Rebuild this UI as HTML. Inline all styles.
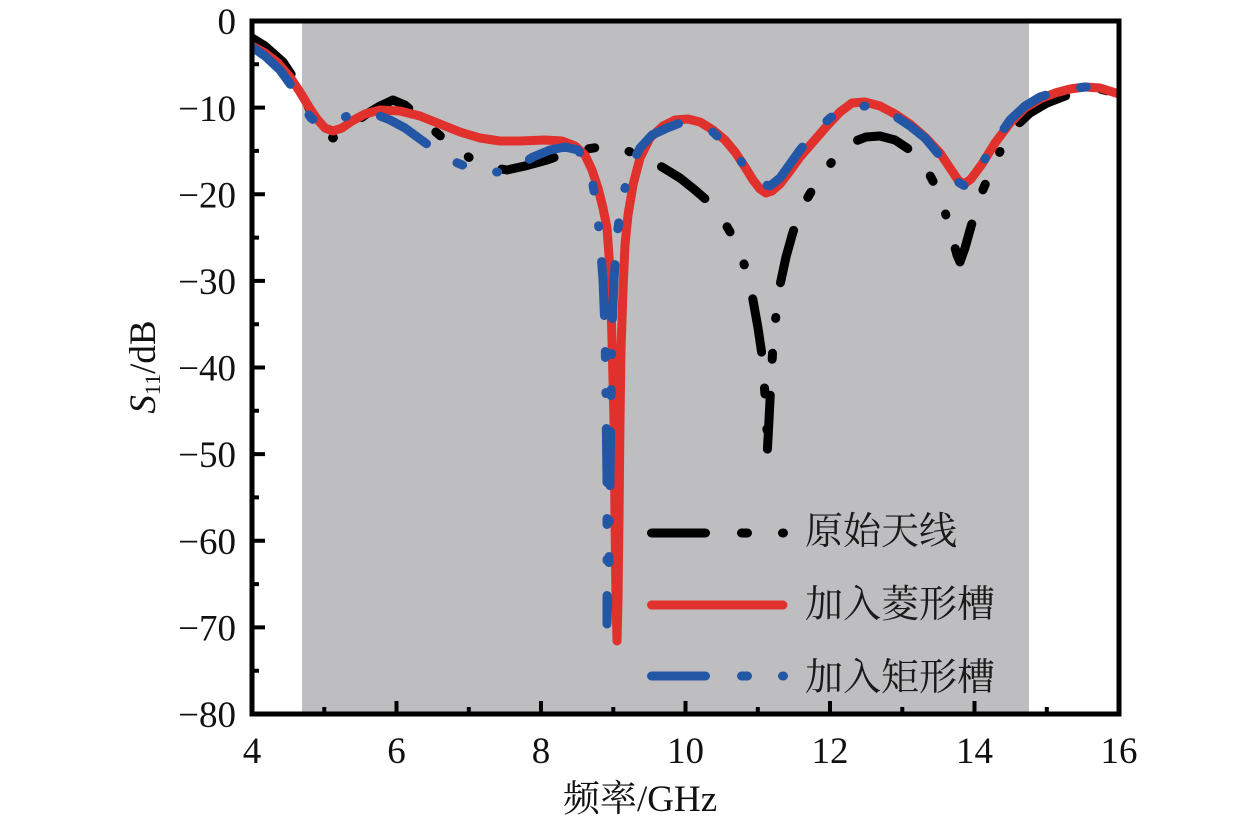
<!DOCTYPE html>
<html><head><meta charset="utf-8"><style>
html,body{margin:0;padding:0;background:#fff;}
svg{display:block;}
</style></head><body>
<svg width="1259" height="820" viewBox="0 0 1259 820" xmlns="http://www.w3.org/2000/svg">
<defs><clipPath id="pa"><rect x="252" y="21" width="867" height="693"/></clipPath></defs>
<rect x="0" y="0" width="1259" height="820" fill="#fff"/>
<rect x="302" y="21" width="727" height="693" fill="#bebec0"/>
<g clip-path="url(#pa)" fill="none" stroke-width="9" stroke-linejoin="round" stroke-linecap="round">
<path stroke="#000" stroke-dasharray="54 36 6 35 1 35" d="M252,38 L265,46 283,62 295,80 305,100 315,120 325,133 333,138 342,134 352,125 365,115 380,106 393,100 405,105 420,118 437,133 453,147 470,158 490,167 507,170 525,166 547,160 573,151 600,147 620,148 633,153 650,160 667,170 680,178 695,190 710,203 722,218 733,237 741,255 747,273 753,300 758,328 762,355 765,395 767,430 767,457 769,420 771,380 773,345 776,315 780,285 786,257 793,232 800,213 808,197 817,182 827,168 840,152 853,142 866,137 880,136 895,140 913,152 925,166 935,185 945,212 952,237 957,255 960,262 965,248 970,230 975,213 982,192 990,173 1003,145 1015,127 1030,113 1047,103 1065,96 1083,92 1100,89 1119,94"/>
<path stroke="#e0312c" d="M252,46 L265,53 278,63 290,77 300,92 309,107 317,119 325,128 333,131 342,128 352,121 365,114 380,110 400,111 420,116 440,124 460,132 480,138 500,141 520,141 545,140 562,141 575,146 585,155 592,170 598,188 603,208 607,228 610,270 612,340 614,420 615,520 616,600 617,641 618,600 619,520 620,420 621,350 623,290 625,245 628,215 633,185 640,158 650,138 663,126 675,120 688,119 700,122 713,130 725,140 735,152 745,167 753,180 760,189 766,193 772,191 780,184 790,171 800,157 813,142 826,127 840,112 852,103 865,102 880,106 895,114 910,124 925,137 940,153 950,168 958,180 964,184 971,179 982,164 995,143 1010,123 1025,108 1040,99 1055,93 1070,89 1085,87 1100,88 1119,94"/>
<path stroke="#2456a6" stroke-dasharray="54 36 6 35 1 35" d="M252,47 L265,56 280,70 293,88 303,106 311,118 320,124 330,123 340,119 350,115 360,113 375,114 390,120 405,128 420,139 438,152 455,162 470,168 490,172 505,172 520,165 533,157 550,150 565,147 578,150 587,163 593,185 597,210 600,240 603,280 605,330 606,400 607,480 607,560 607,624 609,560 610,480 611,400 612,330 614,280 617,235 622,200 630,168 640,148 652,135 667,128 680,123 697,125 713,132 728,146 740,160 752,175 762,184 770,186 780,178 790,164 800,150 815,132 830,118 847,108 865,106 880,110 895,116 910,126 925,138 940,156 950,172 958,182 965,186 972,180 982,164 995,142 1010,120 1025,106 1040,97 1055,92 1070,89 1085,87 1100,87 1119,93"/>
</g>
<!-- legend -->
<g fill="none" stroke-width="9" stroke-linecap="round">
<path stroke="#000" stroke-dasharray="54 36 6 35 1 35" d="M651.5,533 L785,533"/>
<path stroke="#e0312c" d="M651.5,605 L783,605"/>
<path stroke="#2456a6" stroke-dasharray="54 36 6 35 1 35" d="M651.5,676 L785,676"/>
</g>
<g font-family="'Liberation Serif','Noto Serif CJK SC','Noto Sans CJK SC',serif" font-size="38" fill="#1a1a1a">
<text x="805" y="544">原始天线</text>
<text x="805" y="617">加入菱形槽</text>
<text x="805" y="690">加入矩形槽</text>
</g>
<!-- frame -->
<rect x="252" y="21" width="867" height="693" fill="none" stroke="#000" stroke-width="5"/>
<!-- y ticks -->
<g stroke="#000" stroke-width="4">
<path d="M252,107.6H265M252,194.3H265M252,280.9H265M252,367.5H265M252,454.1H265M252,540.8H265M252,627.4H265"/>
<path d="M252,64.3H259M252,150.9H259M252,237.6H259M252,324.2H259M252,410.8H259M252,497.4H259M252,584.1H259M252,670.7H259"/>
<path d="M396.5,714V701M541,714V701M685.5,714V701M830,714V701M974.5,714V701"/>
<path d="M324.3,714V707M468.8,714V707M613.3,714V707M757.8,714V707M902.3,714V707M1046.8,714V707"/>
</g>
<g font-family="'Liberation Serif',serif" font-size="37" fill="#111" text-anchor="end">
<text x="236" y="34">0</text>
<text x="236" y="121">−10</text>
<text x="236" y="207.5">−20</text>
<text x="236" y="294">−30</text>
<text x="236" y="380.5">−40</text>
<text x="236" y="467">−50</text>
<text x="236" y="554">−60</text>
<text x="236" y="640.5">−70</text>
<text x="236" y="727">−80</text>
</g>
<g font-family="'Liberation Serif',serif" font-size="37" fill="#111" text-anchor="middle">
<text x="252" y="763">4</text>
<text x="396.5" y="763">6</text>
<text x="541" y="763">8</text>
<text x="685.5" y="763">10</text>
<text x="830" y="763">12</text>
<text x="974.5" y="763">14</text>
<text x="1119" y="763">16</text>
</g>
<text x="563" y="811" font-family="'Liberation Serif','Noto Serif CJK SC','Noto Sans CJK SC',serif" font-size="37" fill="#111">频率/GHz</text>
<text transform="translate(155,367) rotate(-90)" text-anchor="middle" font-family="'Liberation Serif',serif" font-size="37" fill="#111"><tspan font-style="italic">S</tspan><tspan font-size="22" dy="5">11</tspan><tspan dy="-5">/dB</tspan></text>
</svg>
</body></html>
